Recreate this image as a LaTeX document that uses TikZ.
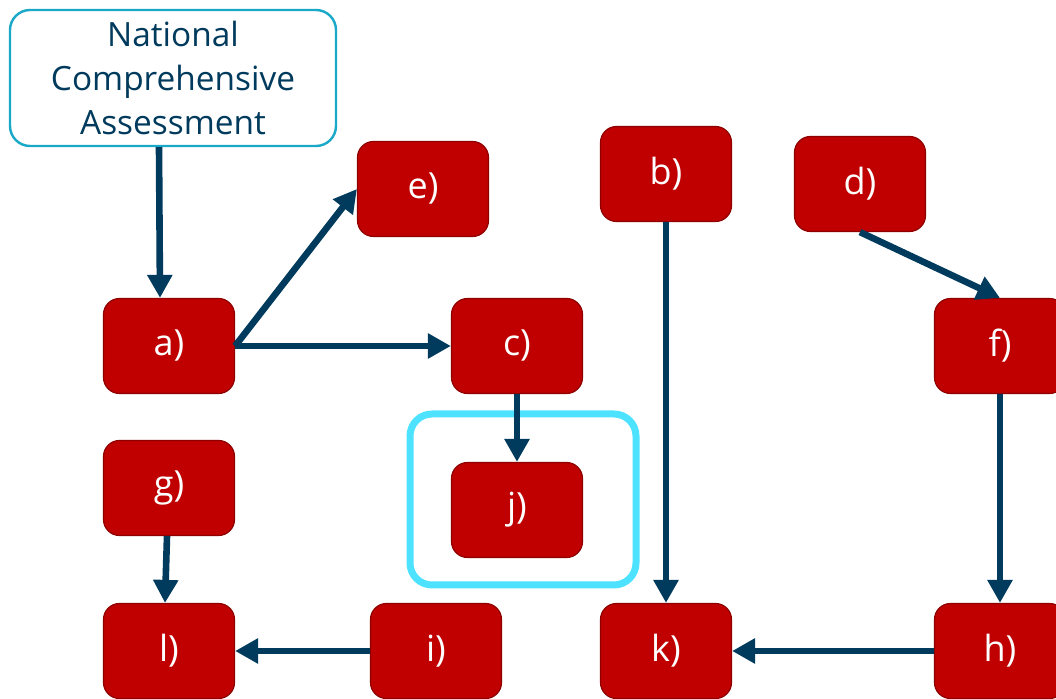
\documentclass[tikz,border=0pt]{standalone}
\usepackage{fontspec}
\setmainfont{Open Sans}
\usetikzlibrary{arrows.meta,positioning}
\definecolor{BoxRed}    {HTML}{C00000}
\definecolor{BoxEdge}   {HTML}{8E0000}
\definecolor{ArrowNavy} {HTML}{003A5C}
\definecolor{TitleCyan} {HTML}{1AA8C8}
\definecolor{FrameCyan} {HTML}{4DE2FF}

\begin{document}
\begin{tikzpicture}[x=0.5pt,y=-0.5pt,
    stepbox/.style={fill=BoxRed,draw=BoxEdge,line width=0.6pt,rounded corners=8pt,
      minimum width=65.5pt,minimum height=47.5pt,inner sep=0pt,text=white,
      font=\fontsize{18}{21}\selectfont},
    flow/.style={draw=ArrowNavy,line width=3.3pt,-{Triangle[length=11.5pt,width=12pt]}}]
  \useasboundingbox (0,0) rectangle (1056,699);
  % title box
  \node[draw=TitleCyan,line width=1.2pt,rounded corners=10pt,fill=white,
        minimum width=163pt,minimum height=68pt,align=center,text=ArrowNavy,
        font=\fontsize{16.7}{22}\selectfont] (nca) at (173,78)
        {National\\Comprehensive\\Assessment};
  % highlight round j)
  \node[draw=FrameCyan,line width=3.5pt,rounded corners=11pt,
        minimum width=113pt,minimum height=85.5pt] (jframe) at (523,499.5) {};
  % steps
  \node[stepbox] (e) at (423,189) {e)};
  \node[stepbox] (b) at (666,174) {b)};
  \node[stepbox] (d) at (860,184) {d)};
  \node[stepbox] (a) at (169,346) {a)};
  \node[stepbox] (c) at (517,346) {c)};
  \node[stepbox] (f) at (1000,346) {f)};
  \node[stepbox] (g) at (169,488) {g)};
  \node[stepbox] (j) at (517,510) {j)};
  \node[stepbox] (l) at (169,651) {l)};
  \node[stepbox] (i) at (436,651) {i)};
  \node[stepbox] (k) at (666,651) {k)};
  \node[stepbox] (h) at (1000,651) {h)};
  % arrows
  \draw[flow] ([xshift=-7pt]nca.south) -- ([xshift=-4.5pt]a.north);
  \draw[flow] (a.east) -- (e.west);
  \draw[flow] (a.east) -- (c.west);
  \draw[flow] (c.south) -- (j.north);
  \draw[flow] ([xshift=-1pt]g.south) -- ([xshift=-2pt]l.north);
  \draw[flow] (i.west) -- (l.east);
  \draw[flow] (b.south) -- (k.north);
  \draw[flow] (d.south) -- (f.north);
  \draw[flow] (f.south) -- (h.north);
  \draw[flow] (h.west) -- (k.east);
\end{tikzpicture}
\end{document}
